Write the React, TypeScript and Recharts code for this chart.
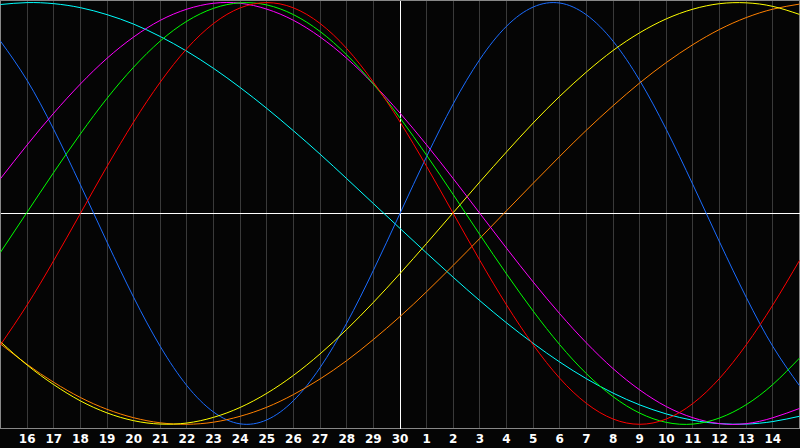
import { CartesianGrid, Line, LineChart, ReferenceArea, ReferenceLine, XAxis, YAxis } from "recharts";

// day labels under each grid line (grid index 0..30, edges unlabelled)
const dayLabels = [
  "15", "16", "17", "18", "19", "20", "21", "22", "23", "24", "25", "26", "27", "28", "29", "30",
  "1", "2", "3", "4", "5", "6", "7", "8", "9", "10", "11", "12", "13", "14", "15",
];

// values read at each grid line, -100..100
const blue = [81.7, 63.1, 39.8, 13.6, -13.6, -39.8, -63.1, -81.7, -94.2, -99.8, -97.9, -88.8, -73.1, -52.0, -27.0, 0, 27.0, 52.0, 73.1, 88.8, 97.9, 99.8, 94.2, 81.7, 63.1, 39.8, 13.6, -13.6, -39.8, -63.1, -81.7];
const red = [-62.3, -43.4, -22.3, 0, 22.3, 43.4, 62.3, 78.2, 90.1, 97.5, 100, 97.5, 90.1, 78.2, 62.3, 43.4, 22.3, 0, -22.3, -43.4, -62.3, -78.2, -90.1, -97.5, -100, -97.5, -90.1, -78.2, -62.3, -43.4, -22.3];
const green = [-18.4, 0.6, 19.5, 37.7, 54.6, 69.4, 81.8, 91.2, 97.3, 99.9, 98.9, 94.3, 86.3, 75.2, 61.4, 45.3, 27.6, 8.9, -10.1, -28.7, -46.3, -62.3, -76.0, -86.9, -94.7, -99.1, -99.9, -97.0, -90.7, -81.1, -68.6];
const magenta = [16.5, 32.5, 47.6, 61.4, 73.6, 83.7, 91.6, 96.9, 99.7, 99.7, 96.9, 91.6, 83.7, 73.6, 61.4, 47.6, 32.5, 16.5, 0, -16.5, -32.5, -47.6, -61.4, -73.6, -83.7, -91.6, -96.9, -99.7, -99.7, -96.9, -92.5];
const cyan = [99.1, 100, 99.5, 97.6, 94.3, 89.8, 83.9, 76.9, 68.8, 59.7, 49.8, 39.2, 28.1, 16.5, 4.7, -7.1, -18.8, -30.3, -41.4, -51.9, -61.6, -70.5, -78.4, -85.2, -90.8, -95.1, -98.1, -99.7, -99.9, -98.7, -96.2];
const yellow = [-60.9, -71.9, -81.2, -88.9, -94.6, -98.3, -99.9, -99.4, -96.7, -92.0, -85.3, -76.8, -66.6, -55.0, -42.2, -28.5, -14.2, 0.4, 15.0, 29.2, 42.9, 55.6, 67.1, 77.3, 85.7, 92.3, 96.9, 99.5, 99.9, 98.2, 94.4];
const orange = [-61.9, -71.6, -80.1, -87.3, -92.9, -96.9, -99.3, -100, -99.0, -96.2, -91.9, -85.9, -78.5, -69.8, -59.8, -48.9, -37.1, -24.6, -11.8, 1.3, 14.3, 27.1, 39.5, 51.1, 61.9, 71.6, 80.1, 87.3, 92.9, 96.9, 99.3];

const tickIdx = dayLabels.map((_, i) => i).slice(1, 30);

const data = dayLabels.map((_, i) => ({
  k: i,
  blue: blue[i],
  red: red[i],
  green: green[i],
  magenta: magenta[i],
  cyan: cyan[i],
  yellow: yellow[i],
  orange: orange[i],
}));

const series = [
  { key: "cyan", color: "#00ffff" },
  { key: "blue", color: "#1a6cff" },
  { key: "orange", color: "#ff8000" },
  { key: "yellow", color: "#ffff00" },
  { key: "magenta", color: "#ff00ff" },
  { key: "green", color: "#00ff00" },
  { key: "red", color: "#ff0000" },
];

export default function App() {
  return (
    <div style={{ position: "fixed", top: 0, left: 0, width: 800, height: 448, background: "#050505" }}>
      <LineChart width={800} height={448} data={data} margin={{ top: 0.5, right: 0.5, left: 0.5, bottom: 0 }}>
        <CartesianGrid horizontal={false} stroke="#3a3a3a" shapeRendering="crispEdges" />
        <XAxis
          dataKey="k"
          type="number"
          domain={[0, 30]}
          ticks={tickIdx}
          tickFormatter={(v) => dayLabels[v]}
          height={19.5}
          axisLine={false}
          tickLine={false}
          tickSize={0}
          tickMargin={6}
          interval={0}
          tick={{ fill: "#ffffff", fontSize: 12, fontWeight: "bold", fontFamily: "DejaVu Sans" }}
        />
        <YAxis hide type="number" domain={[-102, 101]} />
        <ReferenceArea x1={0} x2={30} y1={-102} y2={101} fill="none" stroke="#888888" strokeWidth={1} shapeRendering="crispEdges" />
        <ReferenceLine x={15} stroke="#ffffff" strokeWidth={1} shapeRendering="crispEdges" />
        <ReferenceLine y={0} stroke="#ffffff" strokeWidth={1} shapeRendering="crispEdges" />
        {series.map((s) => (
          <Line
            key={s.key}
            dataKey={s.key}
            type="natural"
            stroke={s.color}
            strokeWidth={1}
            dot={false}
            activeDot={false}
            isAnimationActive={false}
          />
        ))}
      </LineChart>
    </div>
  );
}
